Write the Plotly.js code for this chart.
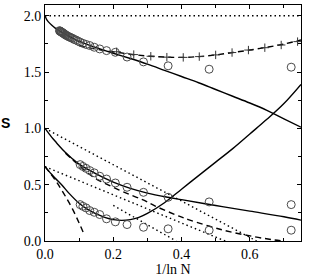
<!DOCTYPE html>
<html><head><meta charset="utf-8">
<script src="https://cdn.plot.ly/plotly-3.0.1.min.js"></script>
<style>html,body{margin:0;padding:0;background:#fff}#chart{width:310px;height:279px}</style>
</head><body><div id="chart"></div>
<script>
// ---- data (x = 1/ln N, y = S) ----
const refLineX = [0, 0.75];
const refLineY = [2.0, 2.0];

const topSolidX = [0, 0.005, 0.01, 0.02, 0.03, 0.04, 0.06, 0.08, 0.1, 0.15, 0.2, 0.25, 0.3, 0.35, 0.4, 0.45, 0.5, 0.55, 0.6, 0.65, 0.7, 0.75];
const topSolidY = [2.0, 1.965, 1.945, 1.915, 1.89, 1.87, 1.835, 1.8, 1.772, 1.717, 1.667, 1.62, 1.57, 1.515, 1.46, 1.405, 1.345, 1.285, 1.225, 1.16, 1.085, 1.01];

const topDashX = [0.1, 0.145, 0.2, 0.25, 0.3, 0.35, 0.4, 0.45, 0.5, 0.55, 0.6, 0.65, 0.7, 0.75];
const topDashY = [1.735, 1.705, 1.68, 1.658, 1.642, 1.633, 1.63, 1.637, 1.652, 1.673, 1.695, 1.72, 1.748, 1.785];

const topCircX = [0.7213, 0.4809, 0.3607, 0.2885, 0.2404, 0.2061, 0.1803, 0.1603, 0.1443, 0.1312, 0.1202, 0.1110, 0.1030, 0.0962, 0.0902, 0.0849, 0.0801, 0.0759, 0.0721, 0.0687, 0.0656, 0.0627, 0.0601, 0.0577, 0.0555, 0.0534, 0.0515, 0.0497, 0.0481, 0.0465, 0.0451, 0.0437, 0.0424];
const topCircY = [1.543, 1.525, 1.555, 1.59, 1.633, 1.675, 1.69, 1.705, 1.72, 1.735, 1.745, 1.755, 1.765, 1.775, 1.785, 1.79, 1.80, 1.805, 1.81, 1.815, 1.82, 1.825, 1.83, 1.835, 1.84, 1.845, 1.848, 1.852, 1.855, 1.858, 1.861, 1.864, 1.867];

const plusX = [0.21, 0.26, 0.31, 0.357, 0.405, 0.452, 0.50, 0.548, 0.596, 0.644, 0.692, 0.74];
const plusY = [1.68, 1.655, 1.64, 1.632, 1.63, 1.637, 1.652, 1.673, 1.695, 1.716, 1.74, 1.77];

const midSolidX = [0, 0.01, 0.02, 0.03, 0.04, 0.06, 0.08, 0.1, 0.15, 0.2, 0.25, 0.3, 0.36, 0.4, 0.5, 0.6, 0.7, 0.75];
const midSolidY = [1.0, 0.96, 0.92, 0.885, 0.85, 0.785, 0.73, 0.682, 0.595, 0.522, 0.467, 0.425, 0.388, 0.367, 0.315, 0.265, 0.215, 0.185];

const midDashX = [0.06, 0.1, 0.145, 0.194, 0.25, 0.291, 0.323, 0.393, 0.42, 0.518, 0.615, 0.664, 0.7];
const midDashY = [0.78, 0.67, 0.56, 0.485, 0.41, 0.36, 0.31, 0.22, 0.19, 0.10, 0.037, 0.013, 0.0];

const midCircX = [0.7213, 0.4809, 0.3607, 0.2885, 0.2404, 0.2061, 0.1803, 0.1603, 0.1443, 0.1312, 0.1202, 0.1110, 0.1030];
const midCircY = [0.323, 0.347, 0.388, 0.432, 0.477, 0.515, 0.55, 0.575, 0.605, 0.625, 0.645, 0.662, 0.678];

const lowSolidX = [0, 0.01, 0.02, 0.03, 0.05, 0.07, 0.1, 0.125, 0.15, 0.175, 0.2, 0.225, 0.25, 0.275, 0.3, 0.35, 0.4, 0.45, 0.5, 0.55, 0.6, 0.65, 0.7, 0.75];
const lowSolidY = [0.663, 0.625, 0.59, 0.557, 0.495, 0.425, 0.335, 0.28, 0.24, 0.21, 0.19, 0.183, 0.19, 0.21, 0.245, 0.34, 0.46, 0.58, 0.70, 0.82, 0.95, 1.08, 1.22, 1.39];

const lowDashX = [0.0, 0.028, 0.04, 0.06, 0.08, 0.1, 0.113];
const lowDashY = [0.66, 0.55, 0.495, 0.396, 0.287, 0.16, 0.07];

const lowCircX = [0.7213, 0.4809, 0.3607, 0.2885, 0.2404, 0.2061, 0.1803, 0.1603, 0.1443, 0.1312, 0.1202, 0.1110, 0.1030];
const lowCircY = [0.096, 0.096, 0.108, 0.122, 0.146, 0.17, 0.197, 0.235, 0.255, 0.27, 0.294, 0.308, 0.323];

const dotAX = [0, 0.62];
const dotAY = [1.0, 0.0];
const dotBX = [0, 0.528];
const dotBY = [0.66, 0.0];
const dotCX = [0.2, 0.384];
const dotCY = [0.316, 0.0];

const xTickVals = [0, 0.2, 0.4, 0.6];
const xTickText = ['0.0', '0.2', '0.4', '0.6'];
const yTickVals = [0, 0.5, 1.0, 1.5, 2.0];
const yTickText = ['0.0', '0.5', '1.0', '1.5', '2.0'];

// ---- styling ----
const DOT = '1.5px,3px';
const DASH = '6px,4px';
function line(x, y, dash, shape) {
  return {x: x, y: y, mode: 'lines', type: 'scatter', hoverinfo: 'skip', showlegend: false,
    line: {color: '#000', width: 1.4, dash: dash, shape: shape || 'spline'}};
}
function circ(x, y) {
  return {x: x, y: y, mode: 'markers', type: 'scatter', showlegend: false,
    marker: {symbol: 'circle-open', size: 8, color: '#4a4a4a', line: {width: 1, color: '#4a4a4a'}}};
}

const traces = [
  line(refLineX, refLineY, DOT, 'linear'),
  line(dotAX, dotAY, DOT, 'linear'),
  line(dotBX, dotBY, DOT, 'linear'),
  line(dotCX, dotCY, DOT, 'linear'),
  line(topSolidX, topSolidY, 'solid'),
  line(topDashX, topDashY, DASH),
  line(midSolidX, midSolidY, 'solid'),
  line(midDashX, midDashY, DASH),
  line(lowSolidX, lowSolidY, 'solid'),
  line(lowDashX, lowDashY, DASH),
  circ(topCircX, topCircY),
  circ(midCircX, midCircY),
  circ(lowCircX, lowCircY),
  {x: plusX, y: plusY, mode: 'markers', type: 'scatter', showlegend: false,
   marker: {symbol: 'cross-thin-open', size: 6, color: '#333', line: {width: 1, color: '#333'}}}
];

const serif = '"Liberation Serif", "Times New Roman", serif';
const tickFont = {family: serif, size: 14, color: '#000'};
const layout = {
  width: 310, height: 279,
  margin: {l: 45, r: 9, t: 5, b: 38, pad: 0},
  paper_bgcolor: '#fff', plot_bgcolor: '#fff',
  showlegend: false,
  xaxis: {
    range: [0, 0.75], showgrid: false, zeroline: false,
    showline: true, linecolor: '#000', linewidth: 1, mirror: 'allticks',
    ticks: 'inside', ticklen: 4, tickwidth: 1, tickcolor: '#000',
    tickvals: xTickVals, ticktext: xTickText, tickfont: tickFont,
    minor: {dtick: 0.1, tick0: 0, ticks: 'inside', ticklen: 3, tickwidth: 1, tickcolor: '#000', showgrid: false},
    title: {text: '1/ln N', font: {family: serif, size: 14, color: '#000'}, standoff: 3}
  },
  yaxis: {
    range: [0, 2.095], showgrid: false, zeroline: false,
    showline: true, linecolor: '#000', linewidth: 1, mirror: 'allticks',
    ticks: 'inside', ticklen: 4, tickwidth: 1, tickcolor: '#000',
    tickvals: yTickVals, ticktext: yTickText, tickfont: tickFont,
    minor: {dtick: 0.25, tick0: 0, ticks: 'inside', ticklen: 3, tickwidth: 1, tickcolor: '#000', showgrid: false}
  },
  annotations: [{
    text: '<b>S</b>', xref: 'paper', yref: 'paper', x: -0.13, y: 0.5, xanchor: 'right', yanchor: 'middle',
    showarrow: false, font: {family: '"Liberation Sans", Arial, sans-serif', size: 14, color: '#000'}
  }]
};

Plotly.newPlot('chart', traces, layout, {displayModeBar: false, staticPlot: true});
</script>
</body></html>
